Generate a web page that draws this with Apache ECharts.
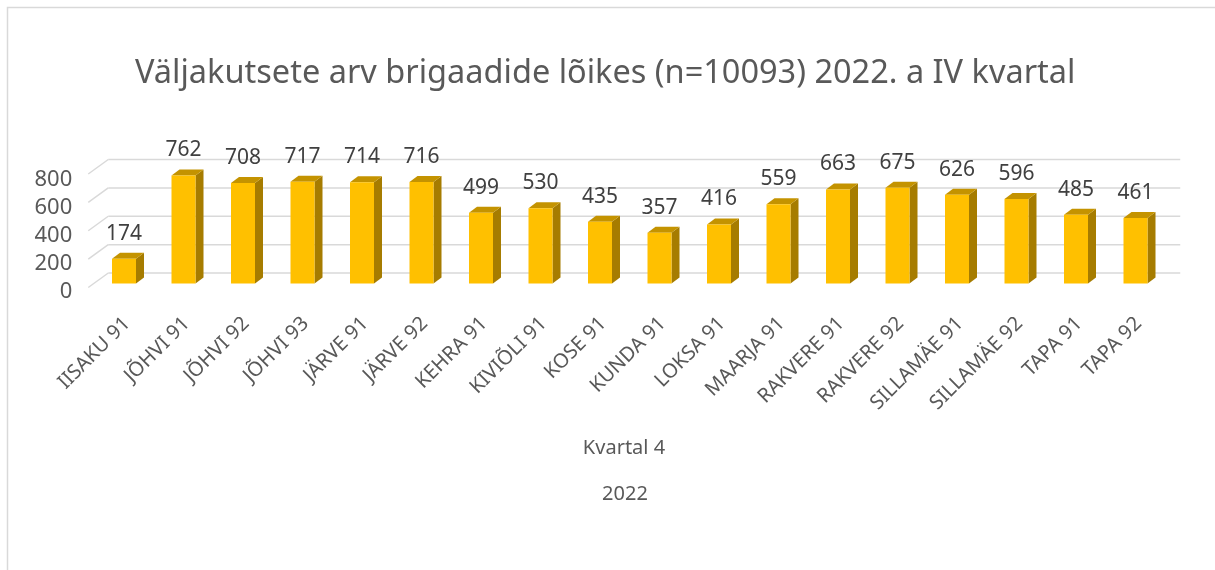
<!DOCTYPE html>
<html>
<head>
<meta charset="utf-8">
<title>Väljakutsete arv brigaadide lõikes</title>
<script src="https://cdn.jsdelivr.net/npm/echarts@6/dist/echarts.min.js"></script>
<style>
  html, body { margin: 0; padding: 0; background: #fff; }
  #chart { width: 1215px; height: 570px; }
</style>
</head>
<body>
<div id="chart"></div>
<script>
// andmed
const brigades = ['IISAKU 91', 'JÕHVI 91', 'JÕHVI 92', 'JÕHVI 93', 'JÄRVE 91', 'JÄRVE 92',
  'KEHRA 91', 'KIVIÕLI 91', 'KOSE 91', 'KUNDA 91', 'LOKSA 91', 'MAARJA 91',
  'RAKVERE 91', 'RAKVERE 92', 'SILLAMÄE 91', 'SILLAMÄE 92', 'TAPA 91', 'TAPA 92']
const calls = [174, 762, 708, 717, 714, 716, 499, 530, 435, 357, 416, 559, 663, 675, 626, 596, 485, 461]
const valueTicks = [0, 200, 400, 600, 800]
const quarterLabel = 'Kvartal 4'
const yearLabel = '2022'
const titleText = 'Väljakutsete arv brigaadide lõikes (n=10093) 2022. a IV kvartal'

const FONT = '"Noto Sans", sans-serif'
const TEXT_GRAY = '#595959'
const GRID_GRAY = '#d9d9d9'

const chart = echarts.init(document.getElementById('chart'), null, {renderer: 'canvas'})

// tagasein + põrand (3D ruudustik)
function renderWall(params, api) {
  const cs = params.coordSys
  const y = api.coord([0, api.value(1)])[1]
  const lineStyle = {stroke: GRID_GRAY, lineWidth: 1.5}
  return {
    type: 'group',
    children: [
      {type: 'line', shape: {x1: cs.x - 6, y1: y + 4, x2: cs.x + 14, y2: y - 10.5}, style: lineStyle},
      {type: 'line', shape: {x1: cs.x + 14, y1: y - 10.5, x2: cs.x + cs.width + 15, y2: y - 10.5}, style: lineStyle}
    ]
  }
}

// 3D tulbad
function renderBar(params, api) {
  const idx = api.value(0)
  const val = api.value(1)
  const p0 = api.coord([idx, 0])
  const p1 = api.coord([idx, val])
  const hw = 12, dx = 8, dy = 6
  const x0 = p0[0] - hw, x1 = p0[0] + hw
  const yb = p0[1], yt = p1[1]
  return {
    type: 'group',
    children: [
      {type: 'polygon', shape: {points: [[x1, yb], [x1 + dx, yb - dy], [x1 + dx, yt - dy], [x1, yt]]},
        style: {fill: '#A67C00'}},
      {type: 'polygon', shape: {points: [[x0, yt], [x0 + dx, yt - dy], [x1 + dx, yt - dy], [x1, yt]]},
        style: {fill: '#C49300'}},
      {type: 'rect', shape: {x: x0, y: yt, width: hw * 2, height: yb - yt},
        style: {fill: '#FFC000'}},
      {type: 'text', x: p0[0], y: yt - 25,
        style: {text: String(val), fill: '#404040', fontSize: 21, fontFamily: FONT,
          align: 'center', verticalAlign: 'middle'}}
    ]
  }
}

chart.setOption({
  animation: false,
  backgroundColor: '#fff',
  title: {
    text: titleText,
    left: 130,
    top: 52,
    textStyle: {color: TEXT_GRAY, fontSize: 32.5, fontWeight: 'normal', fontFamily: FONT}
  },
  grid: [
    // tulpade tasand
    {left: 94.25, right: 49.75, top: 170, bottom: 286.5},
    // telje siltide tasand (esiserv)
    {left: 97.25, right: 46.75, top: 180, bottom: 278}
  ],
  xAxis: [
    {
      type: 'category', gridIndex: 0, data: brigades,
      axisLine: {show: false}, axisTick: {show: false}, axisLabel: {show: false}
    },
    {
      type: 'category', gridIndex: 1, data: brigades,
      axisLine: {show: false}, axisTick: {show: false},
      axisLabel: {
        interval: 0, rotate: 45, margin: 28.5,
        color: TEXT_GRAY, fontSize: 20, fontFamily: FONT
      }
    }
  ],
  yAxis: [
    {
      type: 'value', gridIndex: 0, min: 0, max: 800, interval: 200,
      axisLine: {show: false}, axisTick: {show: false}, splitLine: {show: false},
      axisLabel: {show: false}
    },
    {
      type: 'value', gridIndex: 1, min: 0, max: 800, interval: 200,
      axisLine: {show: false}, axisTick: {show: false}, splitLine: {show: false},
      axisLabel: {margin: 25, color: TEXT_GRAY, fontSize: 22, fontFamily: FONT}
    }
  ],
  series: [
    {
      type: 'custom',
      xAxisIndex: 0, yAxisIndex: 0,
      renderItem: renderWall,
      clip: false,
      silent: true,
      data: valueTicks.map(v => [0, v]),
      encode: {x: 0, y: 1},
      z: 1
    },
    {
      type: 'custom',
      name: 'Väljakutsed',
      xAxisIndex: 0, yAxisIndex: 0,
      renderItem: renderBar,
      clip: false,
      data: calls.map((v, i) => [i, v]),
      encode: {x: 0, y: 1},
      z: 2
    }
  ],
  graphic: [
    {type: 'rect', silent: true, z: -1,
      shape: {x: 7.5, y: 7.5, width: 1400, height: 800},
      style: {fill: 'none', stroke: GRID_GRAY, lineWidth: 1.5}},
    {type: 'text', x: 624, y: 448,
      style: {text: quarterLabel, fill: TEXT_GRAY, fontSize: 20, fontFamily: FONT,
        align: 'center', verticalAlign: 'middle'}},
    {type: 'text', x: 625, y: 494,
      style: {text: yearLabel, fill: TEXT_GRAY, fontSize: 20, fontFamily: FONT,
        align: 'center', verticalAlign: 'middle'}}
  ]
})
</script>
</body>
</html>
